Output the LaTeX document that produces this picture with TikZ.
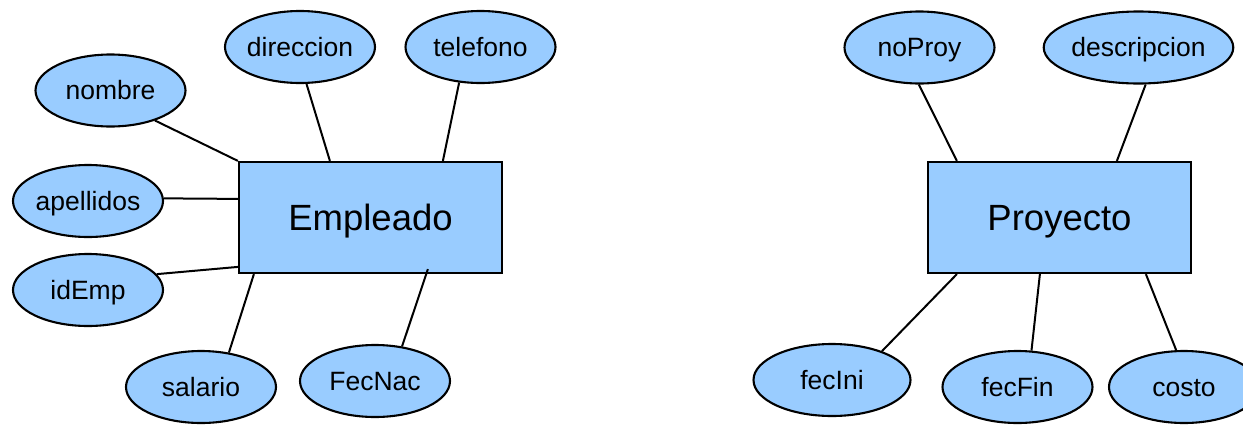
\documentclass[tikz,border=0pt]{standalone}
\usepackage{fontspec}
\setmainfont{Liberation Sans}
\usetikzlibrary{shapes.geometric,calc}
\definecolor{erfill}{RGB}{153,204,255}
\tikzset{
  entity/.style={draw=black, fill=erfill, line width=2.2pt, rectangle,
    minimum width=263pt, minimum height=111pt, inner sep=0pt,
    text height=33pt, text depth=7.7pt,
    font=\fontsize{36.5}{40}\selectfont},
  attr/.style={draw=black, fill=erfill, line width=2.1pt, ellipse,
    minimum width=150pt, minimum height=72pt, inner sep=0pt,
    text height=24pt, text depth=5.6pt,
    font=\fontsize{26.5}{30}\selectfont},
  link/.style={draw=black, line width=2pt}
}
\begin{document}
\begin{tikzpicture}[x=1pt, y=-1pt]
\useasboundingbox (0,0) rectangle (1243,424);

% Entities
\node[entity] (emp) at (370.5,217.5) {Empleado};
\node[entity] (proy) at (1059.5,217.5) {Proyecto};

% Attributes of Empleado
\node[attr] (nombre)    at (110.5,90.5) {nombre};
\node[attr] (direccion) at (300,47)     {direccion};
\node[attr] (telefono)  at (480.5,47)   {telefono};
\node[attr] (apellidos) at (88,201)     {apellidos};
\node[attr] (idemp)     at (88,290)     {idEmp};
\node[attr] (salario)   at (201,387)    {salario};
\node[attr] (fecnac)    at (375,381)    {FecNac};

% Attributes of Proyecto
\node[attr] (noproy)      at (919.5,47.5)  {noProy};
\node[attr] (descripcion) at (1138.5,47.5) {descripcion};
\node[attr, minimum width=157pt] (fecini) at (832,380) {fecIni};
\node[attr] (fecfin)      at (1017.5,387)  {fecFin};
\node[attr] (costo)       at (1184,387)    {costo};

% Attachment points on the entity boxes
\coordinate (pNom) at (emp.north west);
\coordinate (pDir) at ($(emp.north west)+(92,0)$);
\coordinate (pTel) at ($(emp.north west)+(205,0)$);
\coordinate (pApe) at ($(emp.north west)+(0,38)$);
\coordinate (pId)  at ($(emp.north west)+(0,106)$);
\coordinate (pSal) at ($(emp.south west)+(16,0)$);
\coordinate (pFec) at ($(emp.south west)+(190,-5)$);

\coordinate (pNo)  at ($(proy.north west)+(30,0)$);
\coordinate (pDes) at ($(proy.north west)+(190,0)$);
\coordinate (pIni) at ($(proy.south west)+(30,0)$);
\coordinate (pFin) at ($(proy.south west)+(113,0)$);
\coordinate (pCos) at ($(proy.south west)+(219,0)$);

% Connectors
\draw[link] (pNom) -- (nombre.-34);
\draw[link] (pDir) -- (direccion.-80);
\draw[link] (pTel) -- (telefono.-121);
\draw[link] (pApe) -- (apellidos.2);
\draw[link] (pId)  -- (idemp.13);
\draw[link] (pSal) -- (salario.51);
\draw[link] (pFec) -- (fecnac.52);

\draw[link] (pNo)  -- (noproy.-91);
\draw[link] (pDes) -- (descripcion.-79);
\draw[link] (pIni) -- (fecini.30);
\draw[link] (pFin) -- (fecfin.69);
\draw[link] (pCos) -- (costo.102);
\end{tikzpicture}
\end{document}
